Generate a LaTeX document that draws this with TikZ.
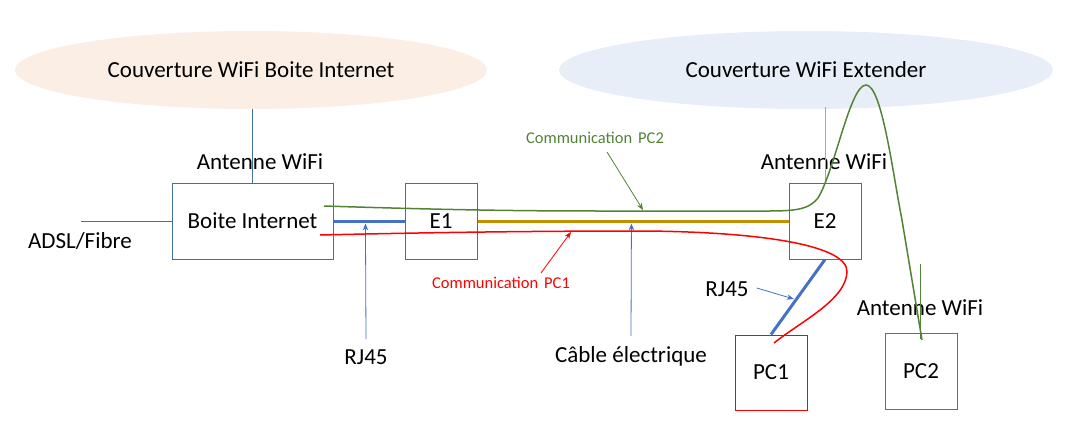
\documentclass[tikz,border=0pt]{standalone}
\usepackage{fontspec}
\setmainfont{Carlito}
\usetikzlibrary{shapes.geometric,arrows.meta,calc}
\definecolor{peach}{HTML}{FBEEE5}
\definecolor{paleblue}{HTML}{E8EEF8}
\definecolor{boxblue}{HTML}{41719C}
\definecolor{rjblue}{HTML}{4472C4}
\definecolor{antblue}{HTML}{8FAADC}
\definecolor{gold}{HTML}{BF9000}
\definecolor{pcgreen}{HTML}{548235}
\definecolor{pcred}{HTML}{FF0000}
\tikzset{
  big/.style={font=\fontsize{23}{27}\selectfont, inner sep=0pt},
  small/.style={font=\fontsize{16.5}{19}\selectfont, inner sep=0pt},
  cover/.style={ellipse, draw=none, big, minimum width=#1, minimum height=78pt},
  box/.style={draw=boxblue, line width=1pt, big, minimum width=72pt, minimum height=76pt},
  rjline/.style={rjblue, line width=3pt},
  thin/.style={line width=1pt},
  arr/.style={rjblue, line width=0.8pt, -{Stealth[length=7pt,width=5.5pt]}},
}
\begin{document}
\begin{tikzpicture}[x=1pt,y=-1pt]
\useasboundingbox (0,0) rectangle (1090,436);
% coverage ellipses
\node[cover=472pt, fill=peach] (cov1) at (251,70) {Couverture WiFi Boite Internet};
\node[cover=494pt, fill=paleblue] (cov2) at (806,70) {Couverture WiFi Extender};
% boxes
\node[box, minimum width=161pt] (boite) at (252.5,221) {Boite Internet};
\node[box] (e1) at (441,221) {E1};
\node[box] (e2) at (825,221) {E2};
\node[box, draw=pcred, minimum height=75pt] (pc1) at (771,372.5) {PC1};
\node[box, draw=pcgreen] (pc2) at (921,371) {PC2};
% labels
\node[big] (ant1) at (260,162) {Antenne WiFi};
\node[big] (ant2) at (824,162) {Antenne WiFi};
\node[big] (ant3) at (920,308) {Antenne WiFi};
\node[big] (adsl) at (80,241) {ADSL/Fibre};
\node[big] (rjl1) at (366,357) {RJ45};
\node[big] (rjl2) at (727,289) {RJ45};
\node[big] (cab) at (631,356) {Câble électrique};
\node[small, text=pcgreen] (c2) at (595,138) {Communication\hspace{6pt}PC2};
\node[small, text=pcred] (c1) at (501,283) {Communication\hspace{6pt}PC1};
% antenna lines
\draw[thin, boxblue] (boite.north) -- (boite.north |- cov1.south);
\draw[thin, antblue] (e2.north) -- ($(e2.north |- cov2.south)+(0,-2)$);
\coordinate (a3top) at (920,264);
\draw[thin, pcgreen] (a3top) -- ([xshift=-1pt,yshift=-6pt]pc2.north);
% ADSL line
\coordinate (adslend) at (81,221);
\draw[thin, boxblue] (adslend) -- (boite.west);
% cables
\draw[rjline] (boite.east) -- (e1.west);
\draw[rjline] (e2.south) -- (pc1.north);
\draw[gold, line width=3pt] (e1.east) -- (e2.west);
% arrows to cables
\draw[arr] (rjl1.north) ++(0,-10) -- ($(boite.east)!0.45!(e1.west)+(0,2.5)$);
\draw[arr] (cab.north) ++(0,-10) -- ($(e1.east)!0.495!(e2.west)+(0,2.5)$);
\draw[arr] ($(rjl2.east)+(8,-1)$) -- ($(e2.south)!0.54!(pc1.north)+(-2,-1)$);
% communication PC2 (green)
\draw[pcgreen, line width=1.5pt]
  (324,206) .. controls (450,210) and (520,211) .. (600,211) -- (770,211)
  .. controls (800,211) and (810,208) .. (818,198)
  .. controls (835,170) and (850,85) .. (866,85)
  .. controls (882,85) and (893,175) .. (902,220) -- (922,340);
% communication PC1 (red)
\draw[pcred, line width=1.5pt]
  (320,235) .. controls (450,232) and (550,231) .. (645,231)
  .. controls (760,232) and (848,245) .. (847,272)
  .. controls (846,300) and (800,322) .. (774,343);
% label arrows
\draw[pcgreen, line width=0.8pt, -{Stealth[length=7pt,width=5.5pt]}] (607,152) -- (643,210);
\draw[pcred, line width=0.8pt, -{Stealth[length=7pt,width=5.5pt]}] (541,273) -- (571,232);
\end{tikzpicture}
\end{document}
